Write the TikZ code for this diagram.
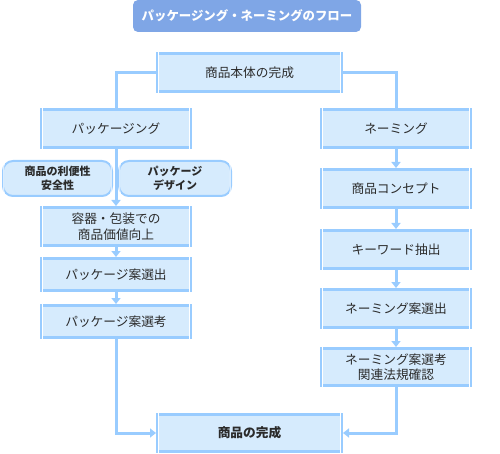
\documentclass[tikz,border=0pt]{standalone}
\usepackage{fontspec}
\setmainfont{Noto Sans CJK JP}
\usetikzlibrary{arrows.meta}
\definecolor{lineblue}{HTML}{99CCFF}
\definecolor{boxfill}{HTML}{D6EBFD}
\definecolor{titlefill}{HTML}{7FA6E6}
\definecolor{txt}{HTML}{2B2B2B}
\tikzset{
  box/.style={draw=lineblue, line width=3pt, fill=boxfill, text=txt, font=\fontsize{12.7}{15.5}\selectfont, align=center, inner sep=0pt, minimum width=149pt},
  pill/.style={draw=lineblue, line width=2pt, fill=boxfill, text=txt, font=\bfseries\fontsize{11}{13.5}\selectfont, align=center, inner sep=0pt, rounded corners=10pt, minimum height=35pt},
  conn/.style={draw=lineblue, line width=3pt},
  arr/.style={conn, -{Triangle[width=9pt,length=6pt]}},
}
\begin{document}
\begin{tikzpicture}[x=1pt,y=-1pt]
\useasboundingbox (0,0) rectangle (500,454);
% title
\node[fill=titlefill, rounded corners=5pt, minimum width=228pt, minimum height=32pt, inner sep=0pt, text=white, font=\bfseries\fontsize{12.4}{14}\selectfont] (title) at (247,16) {パッケージング・ネーミングのフロー};
% top
\node[box, minimum width=184pt, minimum height=38pt] (top) at (249.5,72.5) {商品本体の完成};
% left column
\node[box, minimum height=38pt] (pkg) at (116,128.5) {パッケージング};
\node[box, minimum height=38pt] (youki) at (116,226.5) {容器・包装での\\商品価値向上};
\node[box, minimum height=32pt] (psen) at (116,274.5) {パッケージ案選出};
\node[box, minimum height=32pt] (pkou) at (116,321.5) {パッケージ案選考};
% small boxes
\node[pill, minimum width=109pt] (s1) at (57.5,178.5) {商品の利便性\\安全性};
\node[pill, minimum width=112pt] (s2) at (175,178.5) {パッケージ\\デザイン};
% right column
\node[box, minimum height=38pt] (nam) at (396,128.5) {ネーミング};
\node[box, minimum height=38pt] (con) at (396,188.5) {商品コンセプト};
\node[box, minimum height=38pt] (key) at (396,249.5) {キーワード抽出};
\node[box, minimum height=38pt] (nsen) at (396,308.5) {ネーミング案選出};
\node[box, minimum height=37pt] (nkou) at (396,367) {ネーミング案選考\\関連法規確認};
% final
\node[box, minimum width=184pt, minimum height=37pt, font=\bfseries\fontsize{12.7}{15.5}\selectfont] (fin) at (249.5,433) {商品の完成};
% inner white lines
\foreach \n in {top,pkg,youki,psen,pkou,nam,con,key,nsen,nkou,fin}
  \draw[white, line width=0.9pt] ([shift={(2.2pt,-2.2pt)}]\n.south west) rectangle ([shift={(-2.2pt,2.2pt)}]\n.north east);
\foreach \n in {s1,s2}
  \draw[white, line width=0.8pt, rounded corners=8pt] ([shift={(1.8pt,-1.8pt)}]\n.south west) rectangle ([shift={(-1.8pt,1.8pt)}]\n.north east);
% connectors
\draw[conn] (top.west) -| (pkg.north);
\draw[conn] (top.east) -| (nam.north);
\draw[arr] (pkg.south) -- (youki.north);
\draw[arr] (youki.south) -- (psen.north);
\draw[arr] (psen.south) -- (pkou.north);
\draw[arr] (pkou.south) |- (fin.west);
\draw[arr] (nam.south) -- (con.north);
\draw[arr] (con.south) -- (key.north);
\draw[arr] (key.south) -- (nsen.north);
\draw[arr] (nsen.south) -- (nkou.north);
\draw[arr] (nkou.south) |- (fin.east);
\end{tikzpicture}
\end{document}
